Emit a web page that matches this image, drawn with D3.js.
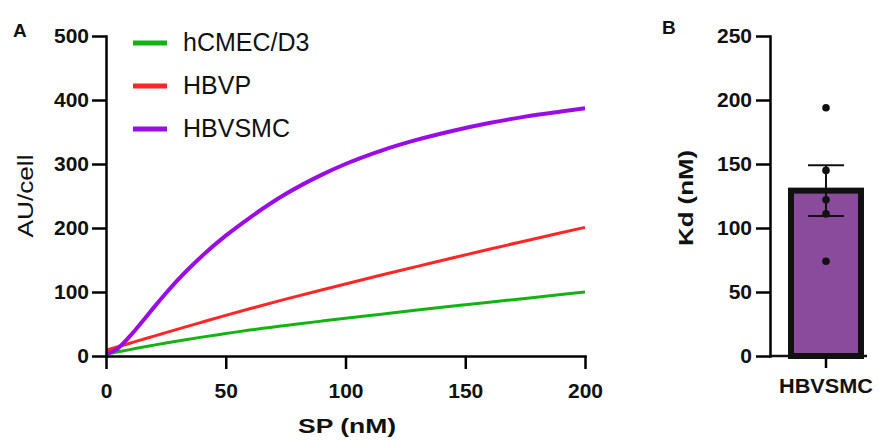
<!DOCTYPE html>
<html>
<head>
<meta charset="utf-8">
<script src="https://cdn.jsdelivr.net/npm/d3@7"></script>
<style>
  body { margin: 0; background: #fff; }
  text { font-family: "Liberation Sans", Arial, sans-serif; fill: #111; }
</style>
</head>
<body>
<div id="chart"></div>
<script>
var w = 881,
    h = 440;

// panel A: fitted binding curves
var spConc = [0, 5, 10, 15, 20, 25, 30, 40, 50, 60, 75, 90, 100, 115, 130, 145, 160, 175, 190, 200];
var hcmecD3 = [3, 6.5, 10, 13.6, 17, 20.3, 23.5, 29.5, 35, 40.5, 47.5, 54.5, 59, 65.4, 71.8, 78, 84, 90, 96, 100];
var hbvp = [9, 14.5, 20, 25.6, 31, 36.5, 42, 52.8, 63.5, 73.8, 88.8, 103.2, 112.6, 126.5, 140, 153.5, 166.8, 179.8, 192.6, 201];
var hbvsmc = [3, 12, 31, 53, 76, 98, 119, 156, 188, 216, 253, 283, 300, 321, 338, 352, 364, 374, 382, 387];

var seriesNames = ["hCMEC/D3", "HBVP", "HBVSMC"];
var seriesColors = ["#12b312", "#ff2626", "#9b0be6"];
var seriesWidths = [3, 3, 4];

var xTicksA = [0, 50, 100, 150, 200];
var yTicksA = [0, 100, 200, 300, 400, 500];

// panel B: Kd per experiment
var kdCategory = ["HBVSMC"];
var kdPoints = [194, 145, 122, 111, 74];
var yTicksB = [0, 50, 100, 150, 200, 250];

var svg = d3.select("#chart").append("svg")
    .attr("width", w)
    .attr("height", h);

function styleAxis(g) {
  g.select(".domain").attr("stroke-width", 2.5).attr("stroke-linecap", "square");
  g.selectAll(".tick line").attr("stroke-width", 2.5);
  g.selectAll(".tick text")
    .style("font-size", "21px")
    .style("font-weight", "bold")
    .attr("fill", "#111");
}

// stretch a label to the width it has in the figure
function stretch(sel, len) {
  sel.attr("textLength", len).attr("lengthAdjust", "spacingAndGlyphs");
}

// ---------- panel A ----------
var x = d3.scaleLinear().domain([0, 200]).range([106, 585]);
var y = d3.scaleLinear().domain([0, 500]).range([356, 36]);

var line = d3.line()
    .x(function(d) { return x(d[0]); })
    .y(function(d) { return y(d[1]); })
    .curve(d3.curveMonotoneX);

[hcmecD3, hbvp, hbvsmc].forEach(function(vals, i) {
  svg.append("path")
      .datum(spConc.map(function(c, j) { return [c, vals[j]]; }))
      .attr("fill", "none")
      .attr("stroke", seriesColors[i])
      .attr("stroke-width", seriesWidths[i])
      .attr("d", line);
});

var gx = svg.append("g")
    .attr("transform", "translate(0," + y(0) + ")")
    .call(d3.axisBottom(x).tickValues(xTicksA).tickSize(13).tickSizeOuter(0).tickPadding(14));
styleAxis(gx);

var gy = svg.append("g")
    .attr("transform", "translate(" + x(0) + ",0)")
    .call(d3.axisLeft(y).tickValues(yTicksA).tickSize(14).tickSizeOuter(0).tickPadding(3));
styleAxis(gy);

svg.append("text")
    .attr("x", 347).attr("y", 433)
    .attr("text-anchor", "middle")
    .style("font-size", "20px").style("font-weight", "bold")
    .text("SP (nM)")
    .call(stretch, 98);

svg.append("text")
    .attr("transform", "translate(33,196) rotate(-90)")
    .attr("text-anchor", "middle")
    .style("font-size", "22px")
    .text("AU/cell")
    .call(stretch, 83);

svg.append("text")
    .attr("x", 13).attr("y", 37)
    .style("font-size", "19px").style("font-weight", "bold")
    .text("A");

// legend
var legend = svg.append("g");
var legendY = [43, 86, 129];
seriesNames.forEach(function(name, i) {
  legend.append("line")
      .attr("x1", 133).attr("x2", 167)
      .attr("y1", legendY[i]).attr("y2", legendY[i])
      .attr("stroke", seriesColors[i])
      .attr("stroke-width", 5);
  legend.append("text")
      .attr("x", 183).attr("y", legendY[i] - 1)
      .attr("dominant-baseline", "central")
      .style("font-size", "25px")
      .attr("fill", "#222")
      .text(name);
});

// ---------- panel B ----------
var x2 = d3.scaleBand().domain(kdCategory).range([786, 866]);
var y2 = d3.scaleLinear().domain([0, 250]).range([356, 36]);

var kdMean = d3.mean(kdPoints),
    kdSem = d3.deviation(kdPoints) / Math.sqrt(kdPoints.length),
    cx = x2("HBVSMC") + x2.bandwidth() / 2;

svg.append("rect")
    .attr("x", cx - 35)
    .attr("width", 70)
    .attr("y", y2(kdMean))
    .attr("height", y2(0) - y2(kdMean))
    .attr("fill", "#8b4b9d")
    .attr("stroke", "#111")
    .attr("stroke-width", 6);

svg.append("line")
    .attr("x1", cx).attr("x2", cx)
    .attr("y1", y2(kdMean + kdSem)).attr("y2", y2(kdMean - kdSem))
    .attr("stroke", "#111").attr("stroke-width", 2);

[kdMean + kdSem, kdMean - kdSem].forEach(function(v) {
  svg.append("line")
      .attr("x1", cx - 18).attr("x2", cx + 18)
      .attr("y1", y2(v)).attr("y2", y2(v))
      .attr("stroke", "#111").attr("stroke-width", 2);
});

svg.selectAll("circle.kd")
    .data(kdPoints)
  .enter().append("circle")
    .attr("class", "kd")
    .attr("cx", cx)
    .attr("cy", function(d) { return y2(d); })
    .attr("r", 3.8)
    .attr("fill", "#111");

var gx2 = svg.append("g")
    .attr("transform", "translate(0," + y2(0) + ")")
    .call(d3.axisBottom(x2).tickSize(12).tickSizeOuter(0).tickPadding(10));
gx2.select(".domain").remove();
gx2.append("line")
    .attr("x1", 770).attr("x2", 867)
    .attr("stroke", "#111").attr("stroke-width", 2.5);
styleAxis(gx2);
gx2.selectAll(".tick text").call(stretch, 94);

var gy2 = svg.append("g")
    .attr("transform", "translate(770,0)")
    .call(d3.axisLeft(y2).tickValues(yTicksB).tickSize(14).tickSizeOuter(0).tickPadding(4));
styleAxis(gy2);

svg.append("text")
    .attr("transform", "translate(693,198) rotate(-90)")
    .attr("text-anchor", "middle")
    .style("font-size", "21px").style("font-weight", "bold")
    .text("Kd (nM)")
    .call(stretch, 96);

svg.append("text")
    .attr("x", 662).attr("y", 34)
    .style("font-size", "19px").style("font-weight", "bold")
    .text("B");
</script>
</body>
</html>
